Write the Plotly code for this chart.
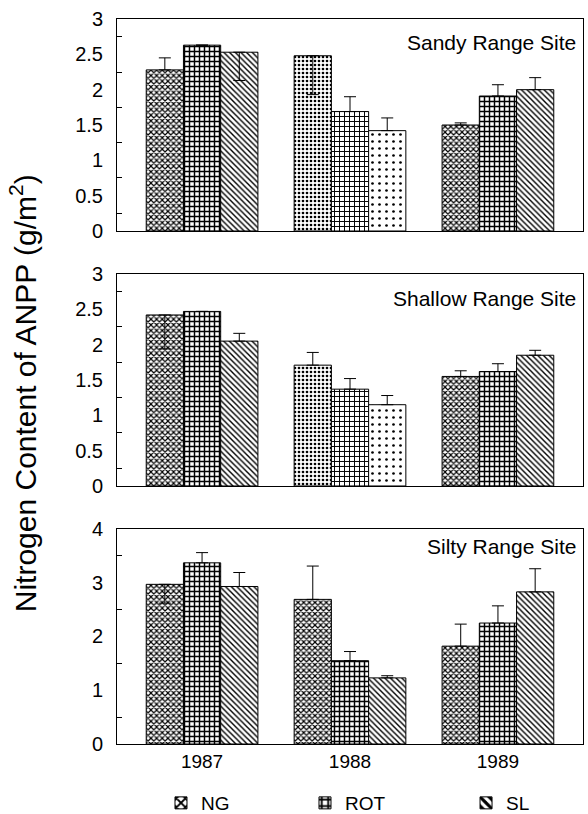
import plotly.graph_objects as go

years = ["1987", "1988", "1989"]
treatments = ["NG", "ROT", "SL"]

# Sandy Range Site
sandy_ng = [2.28, 2.48, 1.50]
sandy_rot = [2.63, 1.69, 1.91]
sandy_sl = [2.53, 1.42, 2.00]
sandy_ng_up = [0.17, 0.0, 0.03]
sandy_ng_down = [0.0, 0.55, 0.0]
sandy_rot_up = [0.0, 0.21, 0.16]
sandy_rot_down = [0.0, 0.0, 0.0]
sandy_sl_up = [0.0, 0.18, 0.17]
sandy_sl_down = [0.40, 0.0, 0.0]

# Shallow Range Site
shallow_ng = [2.42, 1.71, 1.55]
shallow_rot = [2.47, 1.37, 1.62]
shallow_sl = [2.05, 1.15, 1.85]
shallow_ng_up = [0.0, 0.18, 0.08]
shallow_ng_down = [0.48, 0.0, 0.0]
shallow_rot_up = [0.0, 0.15, 0.11]
shallow_rot_down = [0.0, 0.0, 0.0]
shallow_sl_up = [0.11, 0.13, 0.07]
shallow_sl_down = [0.0, 0.0, 0.0]

# Silty Range Site
silty_ng = [2.97, 2.69, 1.82]
silty_rot = [3.37, 1.55, 2.25]
silty_sl = [2.93, 1.23, 2.83]
silty_ng_up = [0.0, 0.62, 0.41]
silty_ng_down = [0.35, 0.0, 0.0]
silty_rot_up = [0.19, 0.17, 0.32]
silty_rot_down = [0.0, 0.0, 0.0]
silty_sl_up = [0.26, 0.04, 0.43]
silty_sl_down = [0.0, 0.0, 0.0]

sandy_letters = ["A", "AB", "B"]
sandy_letter_y = 2.76
silty_letters = ["A", "B", "B"]
silty_letter_y = 3.58

site_titles = ["Sandy Range Site", "Shallow Range Site", "Silty Range Site"]

FONT = "Liberation Sans, Arial, Helvetica, sans-serif"

normal_pat = {
    "NG": dict(shape="x", size=4, solidity=0.5),
    "ROT": dict(shape="+", size=5, solidity=0.5),
    "SL": dict(shape="\\", size=4, solidity=0.35),
}
stipple_pat = {
    "NG": dict(shape=".", size=4, solidity=0.35),
    "ROT": dict(shape="+", size=5, solidity=0.35),
    "SL": dict(shape=".", size=7, solidity=0.12),
}

panels = [
    ("", dict(NG=(sandy_ng, sandy_ng_up, sandy_ng_down),
              ROT=(sandy_rot, sandy_rot_up, sandy_rot_down),
              SL=(sandy_sl, sandy_sl_up, sandy_sl_down)), True),
    ("2", dict(NG=(shallow_ng, shallow_ng_up, shallow_ng_down),
               ROT=(shallow_rot, shallow_rot_up, shallow_rot_down),
               SL=(shallow_sl, shallow_sl_up, shallow_sl_down)), True),
    ("3", dict(NG=(silty_ng, silty_ng_up, silty_ng_down),
               ROT=(silty_rot, silty_rot_up, silty_rot_down),
               SL=(silty_sl, silty_sl_up, silty_sl_down)), False),
]

legend_ids = {"NG": "legend", "ROT": "legend2", "SL": "legend3"}

fig = go.Figure()
for idx, (suf, data, stipple1988) in enumerate(panels):
    for t in treatments:
        vals, up, down = data[t]
        np_ = normal_pat[t]
        sp_ = stipple_pat[t] if stipple1988 else normal_pat[t]
        pats = [np_, sp_, np_]
        fig.add_trace(go.Bar(
            x=years, y=vals, name=t,
            xaxis="x" + suf, yaxis="y" + suf,
            showlegend=(idx == 2),
            legend=legend_ids[t],
            marker=dict(
                color="white",
                line=dict(color="black", width=1),
                pattern=dict(
                    shape=[p["shape"] for p in pats],
                    size=[p["size"] for p in pats],
                    solidity=[p["solidity"] for p in pats],
                    fgcolor="black", bgcolor="white", fillmode="replace",
                ),
            ),
            error_y=dict(type="data", symmetric=False, array=up, arrayminus=down,
                         color="black", thickness=1, width=6),
        ))

d1 = [0.7076, 1.0]
d2 = [0.3559, 0.6483]
d3 = [0.0, 0.2966]

def xax(anchor, show):
    return dict(type="category", range=[-0.575, 2.575], anchor=anchor,
                showline=True, mirror=True, linecolor="black", linewidth=1,
                ticks="", showgrid=False, zeroline=False, showticklabels=show,
                tickfont=dict(family=FONT, size=19, color="black"), domain=[0, 1])

def yax(anchor, dom, rng, tv, tt, mv):
    return dict(domain=dom, anchor=anchor, range=rng, tickmode="array", tickvals=tv, ticktext=tt,
                showline=True, mirror=True, linecolor="black", linewidth=1,
                ticks="", showgrid=False, zeroline=False, ticklabelstandoff=9,
                tickfont=dict(family=FONT, size=20, color="black"),
                minor=dict(tickmode="array", tickvals=mv, ticks="inside", ticklen=5,
                           tickcolor="black", tickwidth=1, showgrid=False))

tv3 = [0, 0.5, 1, 1.5, 2, 2.5, 3]
tt3 = ["0", "0.5", "1", "1.5", "2", "2.5", "3"]
mv3 = [0.25, 0.75, 1.25, 1.75, 2.25, 2.75]
tv4 = [0, 1, 2, 3, 4]
tt4 = ["0", "1", "2", "3", "4"]
mv4 = [0.5, 1.5, 2.5, 3.5]

annotations = []
title_y = [0.887, 0.882, 0.918]
for i, (suf, title) in enumerate(zip(["", "2", "3"], site_titles)):
    annotations.append(dict(text=title, xref=("x" + suf + " domain"), yref=("y" + suf + " domain"),
                            x=0.989, y=title_y[i], xanchor="right", yanchor="middle",
                            showarrow=False, font=dict(family=FONT, size=21, color="black")))

shifts = [-37.5, 0, 37.5]
for lab, sh in zip(sandy_letters, shifts):
    annotations.append(dict(text=lab, x="1988", y=sandy_letter_y, xref="x", yref="y",
                            xshift=sh, showarrow=False, yanchor="middle",
                            font=dict(family=FONT, size=16, color="black")))
for lab, sh in zip(silty_letters, shifts):
    annotations.append(dict(text=lab, x="1988", y=silty_letter_y, xref="x3", yref="y3",
                            xshift=sh, showarrow=False, yanchor="middle",
                            font=dict(family=FONT, size=16, color="black")))

annotations.append(dict(text="Nitrogen Content of ANPP (g/m<sup>2</sup>)", textangle=-90,
                        xref="paper", yref="paper", x=-0.2, y=0.4835,
                        xanchor="center", yanchor="middle", showarrow=False,
                        font=dict(family=FONT, size=30, color="black")))

def leg(x):
    return dict(orientation="h", x=x, y=-0.0814, xanchor="left", yanchor="middle",
                font=dict(family=FONT, size=19, color="black"), bgcolor="rgba(0,0,0,0)",
                borderwidth=0)

fig.update_layout(
    width=588, height=814,
    margin=dict(l=117, r=5, t=19, b=70, autoexpand=False),
    paper_bgcolor="white", plot_bgcolor="white",
    barmode="group", bargap=0.245, bargroupgap=0,
    font=dict(family=FONT, color="black"),
    xaxis=xax("y", False), xaxis2=xax("y2", False), xaxis3=xax("y3", True),
    yaxis=yax("x", d1, [0, 3], tv3, tt3, mv3),
    yaxis2=yax("x2", d2, [0, 3], tv3, tt3, mv3),
    yaxis3=yax("x3", d3, [0, 4], tv4, tt4, mv4),
    annotations=annotations,
    legend=leg(0.0944), legend2=leg(0.4034), legend3=leg(0.749),
)

fig.write_html("out.html")
